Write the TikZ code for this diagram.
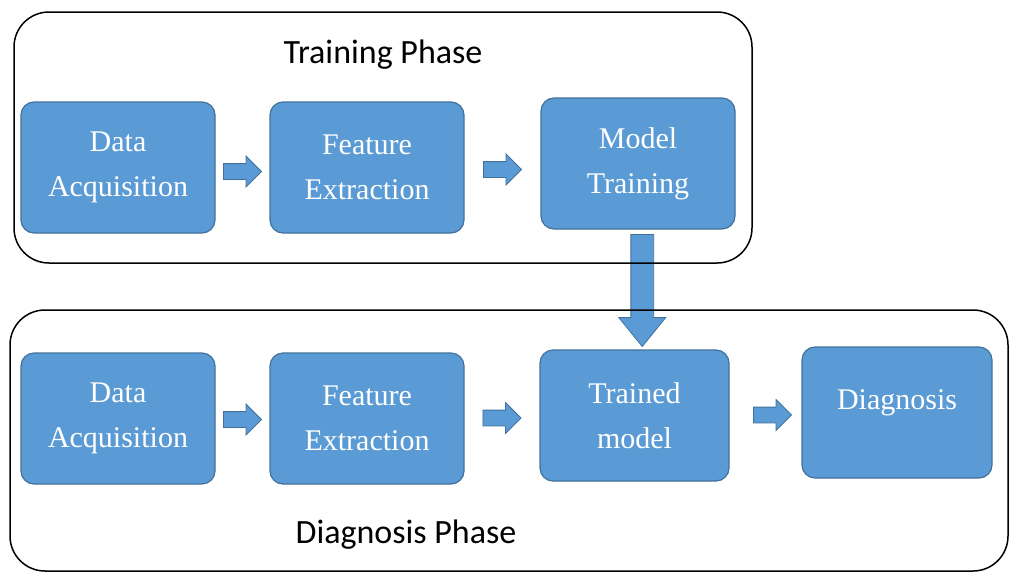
\documentclass[tikz,border=0pt]{standalone}
\usepackage{fontspec}
\setmainfont{Liberation Serif}
\newfontfamily\phasefont{Carlito}
\usetikzlibrary{shapes.arrows, calc}
\definecolor{boxblue}{HTML}{5B9BD5}
\definecolor{boxedge}{HTML}{41719C}

\tikzset{
    stage/.style={draw=boxedge, line width=1.2pt, fill=boxblue, rounded corners=13pt,
        minimum width=194pt, minimum height=131pt, align=center, text=white,
        font=\fontsize{30}{45}\selectfont},
    fatarrow/.style={single arrow, draw=boxedge, line width=0.8pt, fill=boxblue,
        inner xsep=0pt, inner ysep=7.5pt, minimum height=38pt,
        single arrow head extend=7.5pt, single arrow tip angle=90},
    bigarrow/.style={single arrow, draw=boxedge, line width=0.8pt, fill=boxblue,
        inner xsep=0pt, inner ysep=11pt, minimum height=112pt,
        single arrow head extend=12pt, single arrow tip angle=78, rotate=-90},
    frame/.style={draw=black, line width=1.5pt, rounded corners=35pt},
    phase/.style={font=\phasefont\fontsize{34}{40}\selectfont}
}

\begin{document}
\begin{tikzpicture}[x=1pt, y=-1pt]
        \useasboundingbox (0,0) rectangle (1014,573);

        % Blocks
        \node[stage] (da1) at (118,167.5) {Data\\Acquisition};
        \node[stage] (fe1) at (367,167.5) {Feature\\Extraction};
        \node[stage] (mt)  at (638,163.5) {Model\\Training};
        \node[stage] (da2) at (118,418.5) {Data\\Acquisition};
        \node[stage] (fe2) at (367,418.5) {Feature\\Extraction};
        \node[stage, minimum width=189pt] (tm) at (634.5,415.5) {Trained\\model};
        \node[stage, minimum width=190pt] (dg) at (897,412.5)
            {\raisebox{0pt}[\height][\dimexpr\depth+20pt\relax]{Diagnosis}};

        % Arrows
        \node[fatarrow, xshift=-4pt, yshift=-4pt] (a1) at ($(da1.east)!0.5!(fe1.west)$) {};
        \node[fatarrow, xshift=-4pt, yshift=-4pt] (a2) at ($(fe1.east)!0.5!(mt.west)$) {};
        \node[fatarrow, xshift=-4pt, yshift=-1pt] (a3) at ($(da2.east)!0.5!(fe2.west)$) {};
        \node[fatarrow, xshift=-4pt, yshift=-1pt] (a4) at ($(fe2.east)!0.5!(tm.west)$) {};
        \node[fatarrow, xshift=3pt, yshift=-1pt] (a5) at ($(tm.east)!0.5!(dg.west)$) {};
        \node[bigarrow] (a6) at ($(mt.south)!0.5!(tm.north)+(6,-6)$) {};

        % Phases
        \draw[frame] (14,12) rectangle (752,263);
        \draw[frame] (10,310) rectangle (1008,571);
        \node[phase] (tp) at (383,55) {Training Phase};
        \node[phase] (dp) at (406,535) {Diagnosis Phase};
    \end{tikzpicture}
\end{document}
